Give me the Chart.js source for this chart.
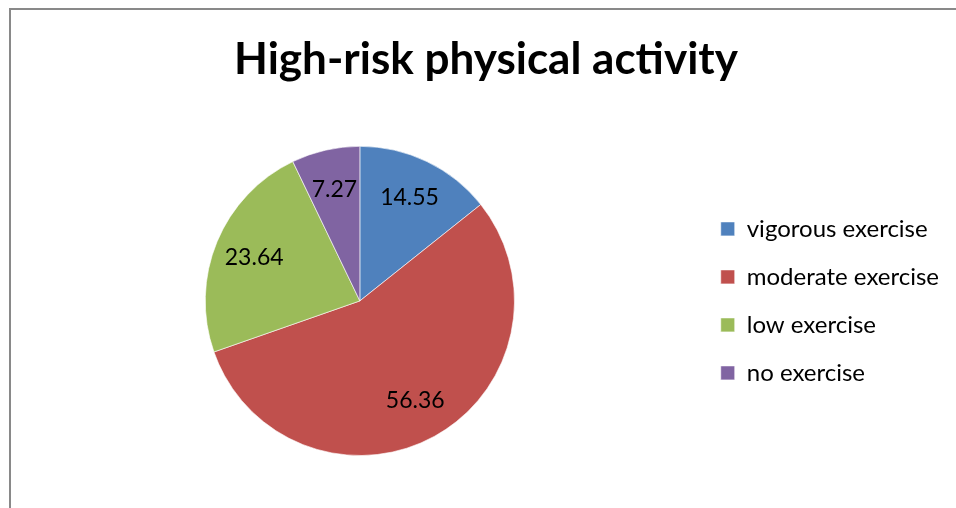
<!DOCTYPE html>
<html>
<head>
<meta charset="utf-8">
<script src="https://cdn.jsdelivr.net/npm/chart.js@4.4.0/dist/chart.umd.min.js"></script>
<style>
  html, body { margin: 0; padding: 0; background: #fff; overflow: hidden; }
  #wrap { position: relative; width: 956px; height: 508px; }
  #frame {
    position: absolute; left: 9px; top: 8px; right: 0; bottom: 0;
    border-top: 2px solid #898989; border-left: 2px solid #898989;
    pointer-events: none;
  }
</style>
</head>
<body>
<div id="wrap">
  <canvas id="myChart" width="956" height="508"></canvas>
  <div id="frame"></div>
</div>
<script>
const categories = ["vigorous exercise", "moderate exercise", "low exercise", "no exercise"];
const values = [14.55, 56.36, 23.64, 7.27];
const colors = ["#4F81BD", "#C0504D", "#9BBB59", "#8064A2"];

// draws the value inside each slice
const sliceLabels = {
  id: "sliceLabels",
  afterDatasetsDraw(chart) {
    const ctx = chart.ctx;
    const meta = chart.getDatasetMeta(0);
    ctx.save();
    ctx.font = "23px Lato";
    ctx.fillStyle = "#000";
    ctx.textAlign = "center";
    ctx.textBaseline = "middle";
    meta.data.forEach((arc, i) => {
      const p = arc.getProps(["x", "y", "startAngle", "endAngle", "outerRadius"], true);
      const mid = (p.startAngle + p.endAngle) / 2;
      const r = p.outerRadius * 0.74;
      ctx.fillText(values[i].toFixed(2), p.x + Math.cos(mid) * r, p.y + Math.sin(mid) * r);
    });
    ctx.restore();
  },
};

const ctx = document.getElementById("myChart").getContext("2d");
const myChart = new Chart(ctx, {
  type: "pie",
  data: {
    labels: categories,
    datasets: [
      {
        data: values,
        backgroundColor: colors,
        borderColor: "rgba(255,255,255,0.6)",
        borderWidth: 1,
      },
    ],
  },
  options: {
    responsive: false,
    animation: false,
    layout: {
      padding: { left: 23, right: 7, top: 0, bottom: 52 },
    },
    plugins: {
      title: {
        display: true,
        text: "High-risk physical activity",
        color: "#000",
        font: { family: "Lato", size: 44, weight: "bold", lineHeight: 1.2 },
        padding: { top: 33, bottom: 60 },
      },
      legend: {
        position: "right",
        align: "center",
        fullSize: false,
        labels: {
          color: "#000",
          font: { family: "Lato", size: 24 },
          boxWidth: 14,
          boxHeight: 14,
          padding: 24,
        },
      },
      tooltip: { enabled: false },
    },
  },
  plugins: [sliceLabels],
});
</script>
</body>
</html>
